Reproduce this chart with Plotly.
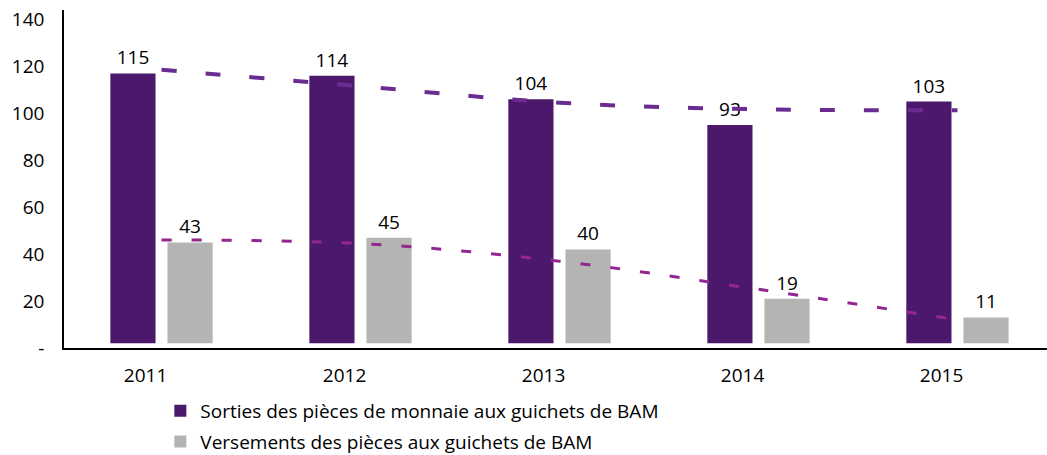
import plotly.graph_objects as go

years = [2011, 2012, 2013, 2014, 2015]
sorties = [115, 114, 104, 93, 103]
versements = [43, 45, 40, 19, 11]
trend_sorties = [118.5, 111.5, 104.5, 101.7, 101.3]
trend_versements = [46, 44.5, 37, 25, 12]
y_ticks = [0, 20, 40, 60, 80, 100, 120, 140]
y_ticktext = ["-", "20", "40", "60", "80", "100", "120", "140"]
name_sorties = "Sorties des pièces de monnaie aux guichets de BAM"
name_versements = "Versements des pièces aux guichets de BAM"

FONT = "Open Sans"
FS = 19
BASE = 2

fig = go.Figure()
fig.add_trace(go.Bar(
    x=years, y=sorties, base=BASE, name=name_sorties, legendgroup="a",
    marker=dict(color="#4B186B", line=dict(width=0)),
    width=0.227, offset=-0.257,
    text=[str(v) for v in sorties], textposition="outside",
    textfont=dict(size=FS, color="black", family=FONT), cliponaxis=False,
))
fig.add_trace(go.Bar(
    x=years, y=versements, base=BASE, name=name_versements, legendgroup="b",
    marker=dict(color="#B4B5B3", line=dict(width=0)),
    width=0.227, offset=0.03,
    text=[str(v) for v in versements], textposition="outside",
    textfont=dict(size=FS, color="black", family=FONT), cliponaxis=False,
))
fig.add_trace(go.Scatter(
    x=years, y=trend_sorties, mode="lines", showlegend=False,
    line=dict(color="#6B2C91", width=4, dash="15px,29px", shape="spline"),
    hoverinfo="skip",
))
fig.add_trace(go.Scatter(
    x=years, y=trend_versements, mode="lines", showlegend=False,
    line=dict(color="#93278F", width=3, dash="10px,20px", shape="spline"),
    hoverinfo="skip",
))

fig.update_layout(
    width=1047, height=455,
    margin=dict(l=64, r=0, t=10, b=107, autoexpand=False),
    plot_bgcolor="white", paper_bgcolor="white",
    font=dict(family=FONT, size=FS, color="black"),
    barmode="overlay",
    legend=dict(
        x=0.098, y=-0.13, xanchor="left", yanchor="top",
        orientation="v", font=dict(size=FS, family=FONT),
        tracegroupgap=3, traceorder="grouped",
    ),
    xaxis=dict(
        range=[2010.51, 2015.45], automargin=False,
        tickvals=[y - 0.08 for y in years], ticktext=[str(y) for y in years],
        showgrid=False, zeroline=False,
        showline=True, linecolor="black", linewidth=2,
        ticks="outside", ticklen=0, ticklabelstandoff=9,
    ),
    yaxis=dict(
        range=[0, 144], tickvals=y_ticks, ticktext=y_ticktext, automargin=False,
        showgrid=False, zeroline=False, ticklabeloverflow="allow",
        showline=True, linecolor="black", linewidth=1.5,
        ticks="outside", ticklen=0, ticklabelstandoff=14,
    ),
)

fig.write_html(
    "out.html",
    config={"displayModeBar": False},
    post_script="document.body.style.margin='0';document.body.style.overflow='hidden';",
)
